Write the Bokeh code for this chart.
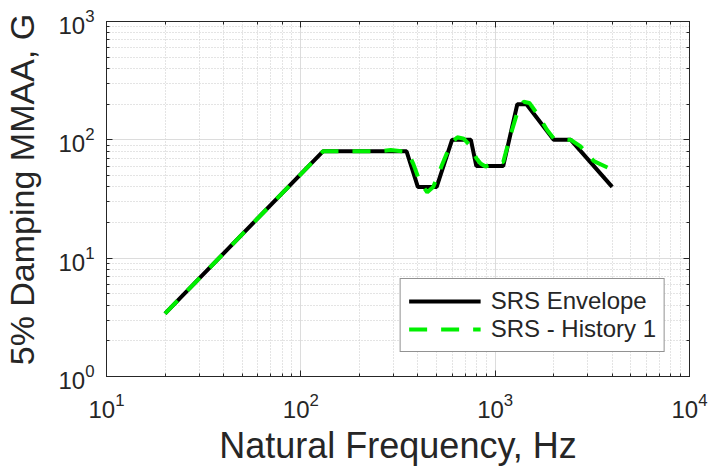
from bokeh.plotting import figure
from bokeh.models import LogAxis, LogTicker, CustomJSTickFormatter, Legend, LegendItem
from bokeh.embed import file_html
from bokeh.resources import INLINE

# SRS Envelope breakpoints (Hz, G)
env_freq = [20, 130, 350, 400, 500, 600, 750, 800, 1100, 1300, 1450, 2000, 2450, 4000]
env_g = [3.4, 80, 80, 40, 40, 100, 100, 60, 60, 200, 200, 100, 100, 40]

# SRS - History 1 (Hz, G)
hist_freq = [20, 130, 160, 200, 250, 290, 330, 355, 380, 410, 447, 480, 530, 590, 638,
             690, 740, 800, 841, 891, 982, 1100, 1200, 1300, 1400, 1500, 1650, 1850,
             2000, 2200, 2450, 2750, 3220, 3850, 4000]
hist_g = [3.4, 80, 80, 80, 80, 82, 80, 79, 62, 44, 36, 40, 60, 92, 105,
          102, 90, 70, 63, 59.5, 63, 65, 110, 170, 210, 205, 165, 121,
          103, 101, 100, 88, 66, 57.6, 56]

FONT = "Liberation Sans"
TXT = "#262626"

p = figure(width=710, height=468, x_axis_type="log", y_axis_type="log",
           x_range=(10, 10000), y_range=(1, 1000),
           output_backend="svg", toolbar_location=None,
           min_border_left=106, min_border_right=21, min_border_top=21, min_border_bottom=90)

p.outline_line_color = TXT
p.outline_line_width = 1

for ax in (p.xaxis[0], p.yaxis[0]):
    ax.major_label_text_font = FONT
    ax.major_label_text_font_size = "24px"
    ax.major_label_text_color = TXT
    ax.axis_label_text_font = FONT
    ax.axis_label_text_font_style = "normal"
    ax.axis_label_text_color = TXT
    ax.axis_line_color = TXT
    ax.major_tick_in = 6
    ax.major_tick_out = 0
    ax.minor_tick_in = 3
    ax.minor_tick_out = 0
    ax.major_tick_line_color = TXT
    ax.minor_tick_line_color = TXT

p.xaxis.axis_label = "Natural Frequency, Hz"
p.xaxis.axis_label_text_font_size = "36px"
p.yaxis.axis_label = "\u00a0\u00a05% Damping MMAA, G"
p.yaxis.axis_label_text_font_size = "34px"
p.xaxis.major_label_standoff = 16
p.yaxis.major_label_standoff = 12
p.xaxis.axis_label_standoff = 4
p.yaxis.axis_label_standoff = 14

# mirrored ticks on top/right
for loc in ("above", "right"):
    ax = LogAxis(ticker=LogTicker(), formatter=CustomJSTickFormatter(code="return ''"),
                 major_tick_in=6, major_tick_out=0, minor_tick_in=3, minor_tick_out=0,
                 major_label_text_font_size="1px", axis_line_color=TXT,
                 major_tick_line_color=TXT, minor_tick_line_color=TXT,
                 major_label_standoff=0)
    p.add_layout(ax, loc)

p.grid.grid_line_color = "#dcdcdc"
p.grid.grid_line_width = 1
p.grid.minor_grid_line_color = "#c8c8c8"
p.grid.minor_grid_line_dash = "1 2"
p.grid.minor_grid_line_width = 1

r1 = p.line(env_freq, env_g, line_color="black", line_width=4)
r2 = p.line(hist_freq, hist_g, line_color="#00f000", line_width=4, line_dash="18 14")

legend = Legend(items=[LegendItem(label="SRS Envelope", renderers=[r1]),
                       LegendItem(label="SRS - History 1", renderers=[r2])],
                location="bottom_right", margin=24,
                label_text_font=FONT, label_text_font_size="24px", label_text_color=TXT,
                glyph_width=72, glyph_height=26, label_standoff=10,
                padding=8, spacing=0,
                border_line_color=TXT, border_line_width=1,
                background_fill_color="white", background_fill_alpha=1.0)
p.add_layout(legend, "center")

open("out.html", "w").write(file_html(p, INLINE))
